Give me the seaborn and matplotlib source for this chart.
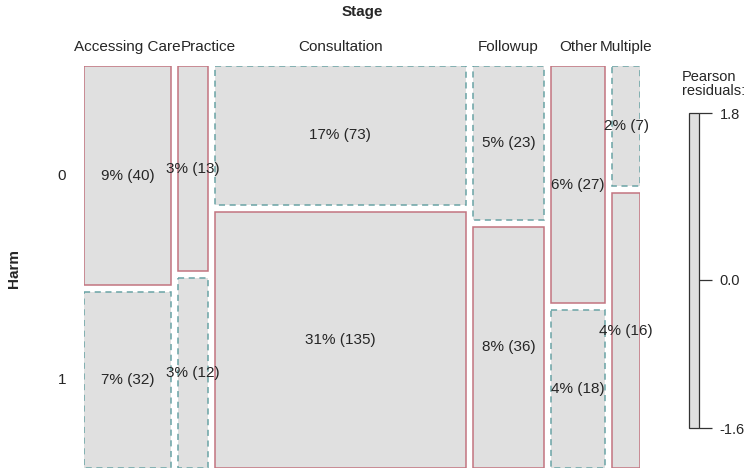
import seaborn as sns
import matplotlib.pyplot as plt
from matplotlib.patches import Rectangle
import numpy as np

sns.set_theme(style="white")
plt.rcParams["font.family"] = ["Liberation Sans", "DejaVu Sans"]

# data: counts of Harm (rows) by Stage (columns)
stages = ["Accessing Care", "Practice", "Consultation", "Followup", "Other", "Multiple"]
harm_levels = ["0", "1"]
harm0 = [40, 13, 73, 23, 27, 7]
harm1 = [32, 12, 135, 36, 18, 16]

counts = np.array([harm0, harm1], dtype=float)
total = counts.sum()
col_tot = counts.sum(axis=0)
row_tot = counts.sum(axis=1)
expected = np.outer(row_tot, col_tot) / total
resid = (counts - expected) / np.sqrt(expected)

fill = "#e0e0e0"
pos_col = "#c27480"
neg_col = "#6aa3a5"
txt = "#262626"
gx = 0.0135  # gap between columns
gy = 0.0177  # gap between rows

fig = plt.figure(figsize=(7.55, 4.73), dpi=100)
ax = fig.add_axes([84 / 755, 5 / 473, 556 / 755, 402 / 473])
ax.set_xlim(0, 1 + gx * (len(stages) - 1))
ax.set_ylim(1 + gy, 0)
ax.axis("off")

col_labels = []
x0 = 0
for j, stage in enumerate(stages):
    w = col_tot[j] / total
    y0 = 0
    for i in range(len(harm_levels)):
        h = counts[i, j] / col_tot[j]
        r = resid[i, j]
        if r >= 0:
            ls, ec = "-", pos_col
        else:
            ls, ec = (0, (4, 3)), neg_col
        ax.add_patch(Rectangle((x0, y0), w, h, facecolor=fill, edgecolor=ec,
                               linestyle=ls, linewidth=1.1))
        n = int(counts[i, j])
        ax.text(x0 + w / 2, y0 + h / 2, f"{round(100 * n / total)}% ({n})",
                ha="center", va="center", fontsize=11, color=txt)
        if j == 0:
            ax.annotate(harm_levels[i], (0, y0 + h / 2),
                        xycoords=("axes fraction", "data"),
                        xytext=(-22, 0), textcoords="offset pixels",
                        ha="center", va="center", fontsize=11, color=txt)
        y0 += h + gy
    lab = ax.annotate(stage, (x0 + w / 2, 1), xycoords=("data", "axes fraction"),
                      xytext=(0, 19), textcoords="offset pixels",
                      ha="center", va="center", fontsize=11, color=txt)
    col_labels.append(lab)
    x0 += w + gx

# push column labels right where they would overlap
fig.canvas.draw()
renderer = fig.canvas.get_renderer()
prev_right = -np.inf
for lab in col_labels:
    bb = lab.get_window_extent(renderer)
    if bb.x0 < prev_right:
        dx = prev_right - bb.x0
        lab.set_position((dx, 19))
        bb = lab.get_window_extent(renderer)
    prev_right = bb.x1

fig.text(362 / 755, 1 - 12 / 473, "Stage", ha="center", va="center",
         fontsize=11, fontweight="bold", color=txt)
fig.text(14 / 755, 1 - 268 / 473, "Harm", ha="center", va="center",
         fontsize=11, fontweight="bold", rotation=90, color=txt)

# legend for Pearson residuals
rmin, rmax = round(resid.min(), 1), round(resid.max(), 1)
lax = fig.add_axes([689 / 755, 1 - 428 / 473, 10 / 755, 315 / 473])
lax.set_ylim(rmin, rmax)
lax.set_xlim(0, 1)
lax.add_patch(Rectangle((0, rmin), 1, rmax - rmin, facecolor=fill,
                        edgecolor="#333333", linewidth=0.9, clip_on=False))
for s in lax.spines.values():
    s.set_visible(False)
lax.set_xticks([])
lax.yaxis.tick_right()
lax.set_yticks([rmin, 0, rmax])
lax.set_yticklabels([f"{v:.1f}" for v in [rmin, 0, rmax]])
lax.tick_params(axis="y", direction="out", length=9, width=0.9,
                color="#333333", labelsize=10.5, pad=6, right=True, left=False,
                labelcolor=txt)
lax.set_facecolor("none")
fig.text(682 / 755, 1 - 84 / 473, "Pearson\nresiduals:", ha="left",
         va="center", fontsize=10.5, linespacing=1.05, color=txt)

fig.savefig("out.png", dpi=100)
